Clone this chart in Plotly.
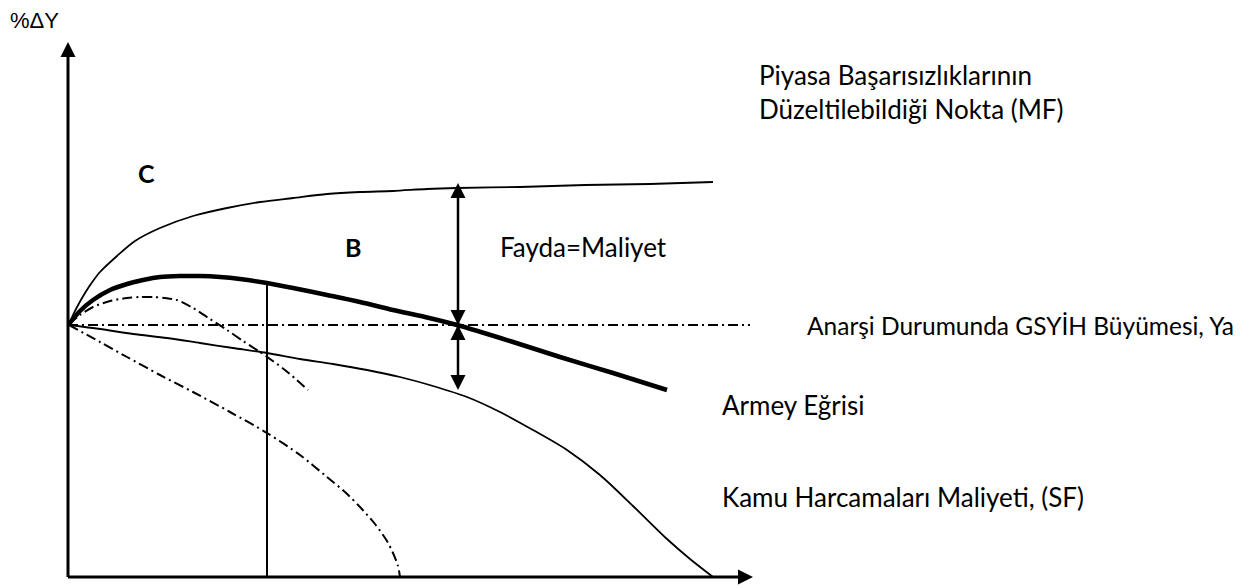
import plotly.graph_objects as go

# curve points (x to the right of the y axis, y above the x axis)
mf_x = [1, 8, 17, 25, 32, 49, 67, 92, 125, 159, 192, 225, 259, 292, 325, 359, 389, 452, 517, 582, 645]
mf_y = [253, 268, 284, 296, 305, 321, 336, 349, 361, 369, 375, 379, 383, 385, 386, 388, 389, 390, 392, 393, 395]

armey_x = [1, 12, 25, 42, 59, 75, 92, 112, 132, 152, 172, 199, 225, 259, 292, 325, 357, 389, 442, 492, 545, 599]
armey_y = [253, 266, 277, 287, 293, 297, 300, 301, 301, 300, 298, 294, 289, 282, 275, 267, 260, 252, 236, 220, 204, 187]

sf_x = [1, 32, 65, 99, 132, 165, 199, 232, 265, 299, 332, 365, 399, 432, 465, 499, 532, 565, 599, 622, 645]
sf_y = [252, 248, 243, 239, 234, 229, 224, 218, 213, 207, 200, 191, 180, 165, 147, 127, 102, 71, 38, 18, 0]

hump_x = [1, 12, 25, 42, 59, 72, 85, 97, 109, 125, 142, 159, 175, 192, 217, 240]
hump_y = [253, 262, 270, 276, 279, 280, 280, 279, 277, 269, 258, 247, 236, 225, 207, 187]

low_x = [1, 32, 59, 92, 125, 162, 199, 232, 259, 277, 292, 307, 319, 325, 330, 332]
low_y = [252, 235, 220, 202, 185, 165, 144, 122, 100, 85, 70, 53, 36, 24, 11, 0]

ya_level = 252          # anarchy growth line
ya_end = 682
cut_x = 199             # vertical line
cut_top = 294
gap_x = 390             # Fayda=Maliyet arrows
gap_top = 394
gap_bottom = 187
x_tip = 685
y_tip = 535

fig = go.Figure()

def add_line(x, y, width, dash="solid", shape="spline"):
    fig.add_trace(go.Scatter(x=x, y=y, mode="lines",
                             line=dict(color="black", width=width, dash=dash, shape=shape,
                                       smoothing=0.8),
                             hoverinfo="skip", showlegend=False))

dd = "10px,4px,2px,4px"

# axes
add_line([0, 0], [0, y_tip - 8], 3, shape="linear")
add_line([0, x_tip - 8], [0, 0], 3, shape="linear")

add_line(mf_x, mf_y, 1.8)
add_line(armey_x, armey_y, 4.5)
add_line(sf_x, sf_y, 1.8)
add_line(hump_x, hump_y, 2, dash=dd)
add_line(low_x, low_y, 2, dash=dd)
add_line([0, ya_end], [ya_level, ya_level], 2.2, dash=dd, shape="linear")
add_line([cut_x, cut_x], [0, cut_top], 2, shape="linear")
add_line([gap_x, gap_x], [gap_top - 6, gap_bottom + 6], 2.5, shape="linear")

# arrow heads
fig.add_trace(go.Scatter(
    x=[0, x_tip, gap_x, gap_x, gap_x, gap_x],
    y=[y_tip, 0, gap_top, ya_level, ya_level, gap_bottom],
    mode="markers",
    marker=dict(symbol=["arrow-up", "arrow-right", "arrow-up", "arrow-down", "arrow-up", "arrow-down"],
                size=15, color="black", line=dict(width=0)),
    hoverinfo="skip", showlegend=False))

font = dict(family="Lato", size=26, color="black")
labels = [
    ("Piyasa Başarısızlıklarının", 689, 502, font),
    ("Düzeltilebildiği Nokta (MF)", 689, 468, font),
    ("Fayda=Maliyet", 430, 330, font),
    ("Anarşi Durumunda GSYİH Büyümesi, Ya", 737, 252, dict(family="Lato", size=24.5, color="black")),
    ("Armey Eğrisi", 652, 172, font),
    ("Kamu Harcamaları Maliyeti, (SF)", 652, 80, font),
    ("<b>C</b>", 68, 404, dict(family="Lato", size=25, color="black")),
    ("<b>B</b>", 275, 330, dict(family="Lato", size=25, color="black")),
    ("%ΔY", -60, 557, dict(family="Liberation Sans", size=22, color="black")),
]
for txt, x, y, f in labels:
    fig.add_annotation(x=x, y=y, text=txt, showarrow=False, xanchor="left", yanchor="middle",
                       font=f)

fig.update_layout(
    width=1251, height=588,
    margin=dict(l=0, r=0, t=0, b=0),
    paper_bgcolor="white", plot_bgcolor="white",
    xaxis=dict(range=[-68, 1183], visible=False, fixedrange=True),
    yaxis=dict(range=[-11, 577], visible=False, fixedrange=True),
)

fig.write_html("out.html", config={"displayModeBar": False},
               post_script="document.body.style.margin='0';")
